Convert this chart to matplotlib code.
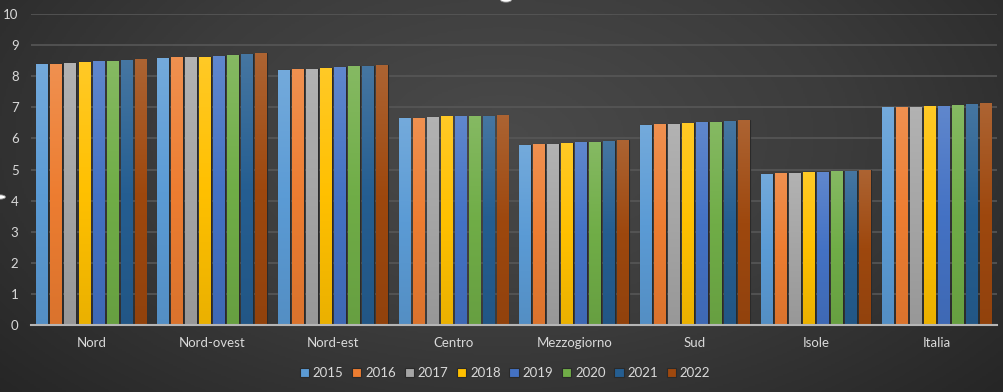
import numpy as np
import matplotlib
matplotlib.use("Agg")
import matplotlib.pyplot as plt
from matplotlib.colors import LinearSegmentedColormap, to_rgb
from matplotlib.patches import Circle

# Data
regions = ["Nord", "Nord-ovest", "Nord-est", "Centro", "Mezzogiorno", "Sud", "Isole", "Italia"]
years = ["2015", "2016", "2017", "2018", "2019", "2020", "2021", "2022"]
v2015 = [8.40, 8.58, 8.20, 6.65, 5.79, 6.43, 4.86, 7.00]
v2016 = [8.40, 8.61, 8.22, 6.65, 5.82, 6.46, 4.89, 7.00]
v2017 = [8.44, 8.61, 8.25, 6.68, 5.82, 6.46, 4.89, 7.02]
v2018 = [8.46, 8.63, 8.28, 6.71, 5.84, 6.50, 4.92, 7.05]
v2019 = [8.49, 8.66, 8.31, 6.71, 5.87, 6.53, 4.92, 7.05]
v2020 = [8.49, 8.69, 8.34, 6.73, 5.87, 6.53, 4.94, 7.08]
v2021 = [8.52, 8.72, 8.34, 6.73, 5.91, 6.56, 4.94, 7.12]
v2022 = [8.55, 8.76, 8.37, 6.75, 5.94, 6.59, 4.97, 7.14]
series = [v2015, v2016, v2017, v2018, v2019, v2020, v2021, v2022]

# Excel office palette
COLORS = ["#5B9BD5", "#ED7D31", "#A5A5A5", "#FFC000",
          "#4472C4", "#70AD47", "#255E91", "#9E480E"]
TEXT = "#d9d9d9"
GRID = "#575757"
FONT = "Lato"

PITCH = 0.116
WIDTH = 0.0975


def mix(c, other, t):
    c = np.array(to_rgb(c))
    return tuple(c + (np.array(other) - c) * t)


fig = plt.figure(figsize=(10.04, 3.92), dpi=100)

# radial dark background
bg = fig.add_axes([0, 0, 1, 1], zorder=-10)
yy, xx = np.mgrid[0:1:200j, 0:1:500j]
r = np.sqrt(((xx - 0.5) / 0.75) ** 2 + ((yy - 0.35) / 1.1) ** 2)
r = np.clip(r, 0, 1)
bg_cmap = LinearSegmentedColormap.from_list("bg", ["#4a4a4a", "#3c3c3c", "#262626"])
bg.imshow(r, cmap=bg_cmap, aspect="auto", extent=[0, 1, 0, 1], origin="upper")
bg.set_axis_off()

ax = fig.add_axes([0.0309, 0.171, 0.962, 0.793])
ax.patch.set_alpha(0)

x = np.arange(len(regions))
for i, (vals, col) in enumerate(zip(series, COLORS)):
    offs = (i - 3.5) * PITCH
    bars = ax.bar(x + offs, vals, WIDTH, color=col, edgecolor="#2a2a2a",
                  linewidth=0.8, label=years[i], zorder=3)
    cmap = LinearSegmentedColormap.from_list(
        f"g{i}", [mix(col, (0, 0, 0), 0.08), col, mix(col, (1, 1, 1), 0.15)])
    grad = np.linspace(1, 0, 100).reshape(-1, 1)
    for b in bars:
        x0, w, h = b.get_x(), b.get_width(), b.get_height()
        im = ax.imshow(grad, cmap=cmap, aspect="auto",
                       extent=[x0, x0 + w, 0, h], zorder=3.5)
        im.set_clip_path(b)

ax.set_xlim(-0.5, len(regions) - 0.5)
ax.set_ylim(0, 10)
ax.set_yticks(range(0, 11))
ax.set_xticks(x)
ax.set_xticklabels(regions)
ax.grid(axis="y", color=GRID, linewidth=1.2, zorder=0)
ax.set_axisbelow(True)
for s in ["top", "right", "left"]:
    ax.spines[s].set_visible(False)
ax.spines["bottom"].set_color("#b5b5b5")
ax.spines["bottom"].set_linewidth(1.5)
ax.spines["bottom"].set_zorder(5)
ax.tick_params(axis="both", length=0, colors=TEXT, labelsize=9.5)
ax.tick_params(axis="x", pad=9)
ax.tick_params(axis="y", pad=9)
for lab in ax.get_xticklabels() + ax.get_yticklabels():
    lab.set_fontfamily(FONT)

leg = fig.legend(loc="center", bbox_to_anchor=(0.503, 0.048), ncol=8,
                 frameon=False, handlelength=0.7, handleheight=0.7,
                 handletextpad=0.3, columnspacing=0.65,
                 prop={"family": FONT, "size": 9.5})
for t in leg.get_texts():
    t.set_color(TEXT)

# selection handles visible in the screenshot
for cx, cy in [(506 / 1004, 1.0), (0.0, 1 - 197 / 392)]:
    fig.patches.append(Circle((cx, cy), 0.0055, transform=fig.transFigure,
                              facecolor="white", edgecolor="#888888",
                              linewidth=0.6, zorder=20))

fig.savefig("out.png", dpi=100)
